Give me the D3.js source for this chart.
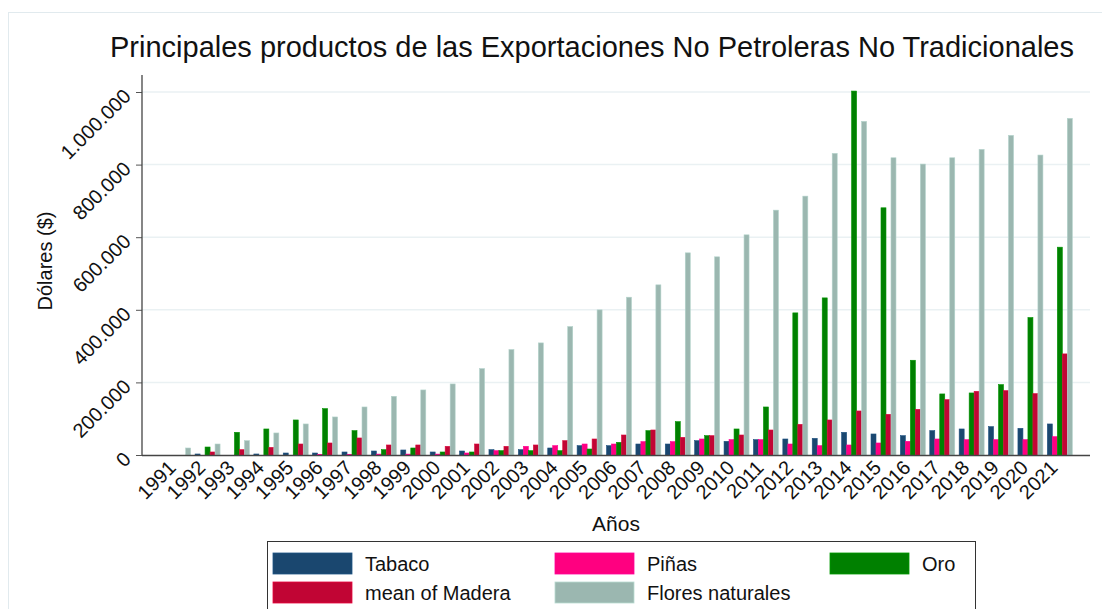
<!DOCTYPE html>
<html><head><meta charset="utf-8">
<script src="https://cdn.jsdelivr.net/npm/d3@7"></script>
<style>body{margin:0;background:#fff}svg{display:block;font-family:"Liberation Sans",Arial,sans-serif}</style>
</head><body><svg id="c" width="1102" height="609"></svg>
<script>
const years = [1991,1992,1993,1994,1995,1996,1997,1998,1999,2000,2001,2002,2003,2004,2005,2006,2007,2008,2009,2010,2011,2012,2013,2014,2015,2016,2017,2018,2019,2020,2021];
const tabaco = [0,2800,0,2800,5500,5500,8300,11000,13800,8300,11000,14700,14700,19300,25700,25700,30300,30300,39500,37700,42300,44100,45900,62500,57900,53300,67100,71700,78100,73500,85500];
const pinas = [0,0,0,0,0,2000,2000,2500,2500,2500,5500,11900,23900,25700,30300,30300,36800,36800,44100,42300,42300,30300,25700,27600,33100,37700,44100,42300,42300,42300,50500];
const oro = [0,22000,62500,71700,96500,127700,67100,14700,19300,8300,8300,11900,11900,11900,16500,34900,67100,91900,53300,71700,132300,391500,432800,1002600,681000,261000,168200,170900,193900,378700,572500];
const madera = [0,8300,14700,21100,30300,33100,46900,27600,27600,23900,30300,23900,27600,39500,44100,55100,68900,48700,53300,55100,68900,84500,96500,121300,112100,125900,152600,175500,177400,169100,278500];
const flores = [19300,30300,39500,60700,85500,104800,132300,161700,179200,195700,238000,290400,308800,353800,399800,434700,468700,556900,545900,606500,674500,713100,830800,919000,818800,801400,818800,841800,880400,826300,927300];
const seriesNames = ["Tabaco","Piñas","Oro","mean of Madera","Flores naturales"];
const seriesValues = [tabaco,pinas,oro,madera,flores];
const seriesColors = ["#1a476f","#ff0080","#008000","#c10534","#9bb7b0"];
const yTicks = [0,200000,400000,600000,800000,1000000];
const titleText = "Principales productos de las Exportaciones No Petroleras No Tradicionales";

const svg = d3.select("#c");
svg.append("rect").attr("x",8.5).attr("y",12.5).attr("width",1110).attr("height",620)
  .attr("fill","none").attr("stroke","#e1eaee").attr("stroke-width",1);

const x0 = 142, x1 = 1090, yBase = 455, yTop = 92;
const y = d3.scaleLinear().domain([0,1000000]).range([yBase,yTop]);
const xb = d3.scaleBand().domain(years).range([151,1087]).paddingInner(0.15).paddingOuter(0.5);
const xs = d3.scaleBand().domain(d3.range(5)).range([0,xb.bandwidth()]);

svg.append("g").selectAll("line").data(yTicks.filter(d=>d>0)).join("line")
  .attr("x1",x0).attr("x2",x1).attr("y1",d=>y(d)).attr("y2",d=>y(d))
  .attr("stroke","#eaf1f3").attr("stroke-width",1.5);

const fmt = d3.formatLocale({decimal:",",thousands:".",grouping:[3]}).format(",d");
const gBars = svg.append("g");
years.forEach((yr,i)=>{
  seriesValues.forEach((vals,s)=>{
    const v = vals[i];
    if(!v) return;
    gBars.append("rect")
      .attr("x",xb(yr)+xs(s)).attr("width",xs.bandwidth())
      .attr("y",y(v)).attr("height",yBase-y(v))
      .attr("fill",seriesColors[s])
      .attr("stroke",d3.color(seriesColors[s]).brighter(0.4)).attr("stroke-width",0.6);
  });
});

const yAxis = d3.axisLeft(y).tickValues(yTicks).tickFormat(d=>d===0?"0":fmt(d)).tickSize(6).tickSizeOuter(0);
const gy = svg.append("g").attr("transform",`translate(${x0},0)`).call(yAxis);
gy.select(".domain").remove();
gy.selectAll(".tick line").attr("stroke","#555");
gy.selectAll(".tick text").attr("font-size",20).attr("fill","#111")
  .attr("text-anchor","end").attr("dx",0).attr("dy",0).attr("x",0)
  .attr("transform",d=>`translate(-10,5) rotate(-45)`);
svg.append("line").attr("x1",x0).attr("x2",x0).attr("y1",75).attr("y2",yBase).attr("stroke","#444").attr("stroke-width",1.3);

svg.append("line").attr("x1",x0).attr("x2",x1).attr("y1",yBase+0.5).attr("y2",yBase+0.5).attr("stroke","#444").attr("stroke-width",1.5);
const xAxis = d3.axisBottom(xb).tickSize(0);
const gx = svg.append("g").attr("transform",`translate(0,${yBase})`).call(xAxis);
gx.select(".domain").remove();
gx.selectAll(".tick text").attr("font-size",20).attr("fill","#111")
  .attr("text-anchor","end").attr("y",0).attr("dy",0)
  .attr("transform","translate(-1,14) rotate(-45)");

svg.append("text").attr("x",x0+(x1-x0)/2).attr("y",531).attr("text-anchor","middle")
  .attr("font-size",21).attr("fill","#111").text("Años");
svg.append("text").attr("transform","translate(52,261) rotate(-90)").attr("text-anchor","middle")
  .attr("font-size",20).attr("fill","#111").text("Dólares ($)");

svg.append("text").attr("x",592).attr("y",57).attr("text-anchor","middle")
  .attr("font-size",29).attr("fill","#111").text(titleText);

const lg = svg.append("g");
lg.append("rect").attr("x",267.5).attr("y",541.5).attr("width",708).attr("height",80)
  .attr("fill","#fff").attr("stroke","#333").attr("stroke-width",1);
const colX = [273,555,830], rowY = [553,582];
seriesNames.forEach((name,s)=>{
  const cx = colX[s%3], cy = rowY[Math.floor(s/3)];
  lg.append("rect").attr("x",cx).attr("y",cy).attr("width",79).attr("height",21)
    .attr("fill",seriesColors[s]).attr("stroke",d3.color(seriesColors[s]).brighter(0.5)).attr("stroke-width",0.8);
  lg.append("text").attr("x",cx+92).attr("y",cy+18).attr("font-size",20).attr("fill","#111").text(name);
});
</script></body></html>
